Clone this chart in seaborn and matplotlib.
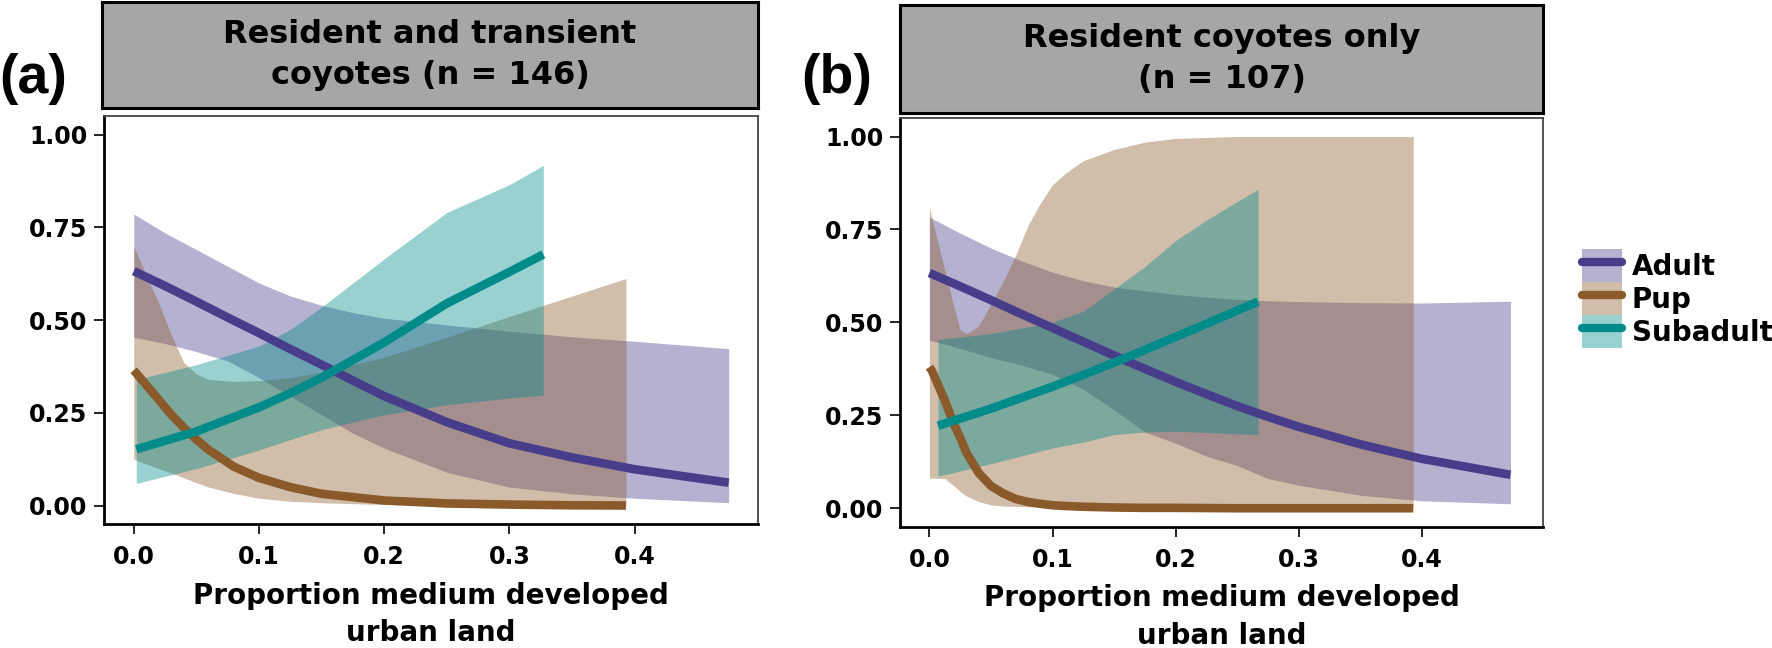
import pandas as pd
import matplotlib
matplotlib.use("Agg")
import matplotlib.pyplot as plt
from matplotlib.patches import Patch
from matplotlib.lines import Line2D
import seaborn as sns


# Data: fitted probability + 95% band per age class

# (a) resident and transient coyotes
A_ADULT_X = [0.0, 0.025, 0.05, 0.075, 0.1, 0.125, 0.15, 0.175, 0.2, 0.25, 0.3, 0.35, 0.4, 0.475]
A_ADULT_FIT = [0.632, 0.592, 0.55, 0.507, 0.465, 0.422, 0.38, 0.337, 0.295, 0.225, 0.168, 0.13, 0.098, 0.062]
A_ADULT_LO = [0.454, 0.437, 0.415, 0.39, 0.345, 0.295, 0.245, 0.195, 0.155, 0.09, 0.05, 0.032, 0.02, 0.008]
A_ADULT_HI = [0.786, 0.735, 0.69, 0.645, 0.6, 0.565, 0.54, 0.52, 0.505, 0.487, 0.47, 0.455, 0.443, 0.423]

A_PUP_X = [0.0, 0.01, 0.02, 0.03, 0.04, 0.05, 0.06, 0.08, 0.1, 0.125, 0.15, 0.2, 0.25, 0.3, 0.35, 0.393]
A_PUP_FIT = [0.365, 0.325, 0.285, 0.245, 0.21, 0.178, 0.15, 0.105, 0.075, 0.05, 0.032, 0.014, 0.006, 0.003, 0.001, 0.0005]
A_PUP_LO = [0.125, 0.112, 0.1, 0.088, 0.075, 0.062, 0.05, 0.033, 0.02, 0.012, 0.008, 0.003, 0.001, 0.001, 0.0, 0.0]
A_PUP_HI = [0.698, 0.62, 0.545, 0.46, 0.385, 0.355, 0.34, 0.335, 0.337, 0.345, 0.36, 0.4, 0.454, 0.51, 0.565, 0.612]

A_SUB_X = [0.002, 0.05, 0.1, 0.125, 0.15, 0.2, 0.25, 0.3, 0.327]
A_SUB_FIT = [0.152, 0.2, 0.265, 0.303, 0.345, 0.44, 0.545, 0.63, 0.677]
A_SUB_LO = [0.06, 0.1, 0.15, 0.178, 0.205, 0.245, 0.272, 0.29, 0.298]
A_SUB_HI = [0.34, 0.38, 0.43, 0.475, 0.535, 0.665, 0.79, 0.865, 0.917]

# (b) resident coyotes only
B_ADULT_X = [0.0, 0.025, 0.05, 0.075, 0.1, 0.125, 0.15, 0.175, 0.2, 0.225, 0.25, 0.275, 0.3, 0.35, 0.4, 0.472]
B_ADULT_FIT = [0.633, 0.597, 0.56, 0.522, 0.485, 0.448, 0.411, 0.375, 0.34, 0.307, 0.275, 0.246, 0.219, 0.172, 0.133, 0.09]
B_ADULT_LO = [0.452, 0.43, 0.405, 0.385, 0.36, 0.32, 0.265, 0.205, 0.175, 0.14, 0.115, 0.08, 0.062, 0.035, 0.02, 0.012]
B_ADULT_HI = [0.783, 0.74, 0.7, 0.665, 0.635, 0.612, 0.595, 0.585, 0.575, 0.568, 0.562, 0.558, 0.556, 0.553, 0.552, 0.557]

B_PUP_X = [0.0, 0.002, 0.0125, 0.02, 0.025, 0.03, 0.04, 0.05, 0.06, 0.07, 0.08, 0.09, 0.1, 0.11,
           0.125, 0.15, 0.175, 0.2, 0.25, 0.3, 0.393]
B_PUP_FIT = [0.38, 0.37, 0.29, 0.225, 0.19, 0.15, 0.095, 0.06, 0.04, 0.025, 0.017, 0.012, 0.008, 0.006,
             0.004, 0.002, 0.001, 0.001, 0.0, 0.0, 0.0]
B_PUP_LO = [0.081, 0.081, 0.08, 0.06, 0.045, 0.033, 0.018, 0.009, 0.006, 0.005, 0.004, 0.003, 0.002, 0.002,
            0.001, 0.001, 0.0, 0.0, 0.0, 0.0, 0.0]
B_PUP_HI = [0.81, 0.78, 0.64, 0.54, 0.48, 0.47, 0.49, 0.55, 0.61, 0.68, 0.76, 0.82, 0.87, 0.9,
            0.935, 0.965, 0.985, 0.995, 1.0, 1.0, 1.0]

B_SUB_X = [0.007, 0.05, 0.1, 0.125, 0.15, 0.175, 0.2, 0.225, 0.25, 0.267]
B_SUB_FIT = [0.222, 0.268, 0.327, 0.359, 0.392, 0.426, 0.461, 0.496, 0.532, 0.556]
B_SUB_LO = [0.086, 0.12, 0.162, 0.178, 0.198, 0.205, 0.207, 0.204, 0.2, 0.198]
B_SUB_HI = [0.454, 0.47, 0.5, 0.53, 0.59, 0.65, 0.72, 0.775, 0.825, 0.858]

GROUPS = ["Adult", "Pup", "Subadult"]
COLORS = {"Adult": "#483D8B", "Pup": "#8B5A2B", "Subadult": "#008B8B"}
PANEL_TITLES = ["Resident and transient\ncoyotes (n = 146)", "Resident coyotes only\n(n = 107)"]
PANEL_TAGS = ["(a)", "(b)"]
X_TICKS = [0.0, 0.1, 0.2, 0.3, 0.4]
Y_TICKS = [0.0, 0.25, 0.5, 0.75, 1.0]


def to_frame(panel, group, x, fit, lo, hi):
    return pd.DataFrame({"panel": panel, "group": group, "x": x, "fit": fit, "lo": lo, "hi": hi})


df = pd.concat([
    to_frame("a", "Adult", A_ADULT_X, A_ADULT_FIT, A_ADULT_LO, A_ADULT_HI),
    to_frame("a", "Pup", A_PUP_X, A_PUP_FIT, A_PUP_LO, A_PUP_HI),
    to_frame("a", "Subadult", A_SUB_X, A_SUB_FIT, A_SUB_LO, A_SUB_HI),
    to_frame("b", "Adult", B_ADULT_X, B_ADULT_FIT, B_ADULT_LO, B_ADULT_HI),
    to_frame("b", "Pup", B_PUP_X, B_PUP_FIT, B_PUP_LO, B_PUP_HI),
    to_frame("b", "Subadult", B_SUB_X, B_SUB_FIT, B_SUB_LO, B_SUB_HI),
], ignore_index=True)


# Style
sns.set_theme(style="white")
plt.rcParams["font.family"] = ["DejaVu Sans"]
plt.rcParams["font.weight"] = "bold"
plt.rcParams["axes.labelweight"] = "bold"
plt.rcParams["text.color"] = "black"
plt.rcParams["axes.labelcolor"] = "black"
plt.rcParams["xtick.color"] = "black"
plt.rcParams["ytick.color"] = "black"

fig = plt.figure(figsize=(17.72, 6.48), dpi=100)

axes_pos = [[0.0587, 0.191, 0.3693, 0.630], [0.508, 0.187, 0.363, 0.631]]
strip_pos = [[0.0573, 0.833, 0.3707, 0.164], [0.508, 0.826, 0.363, 0.166]]
tag_x = [33 / 1772, 837 / 1772]

for i, panel in enumerate(["a", "b"]):
    ax = fig.add_axes(axes_pos[i])
    sub = df[df["panel"] == panel]
    for g in GROUPS:
        d = sub[sub["group"] == g]
        ax.fill_between(d["x"], d["lo"], d["hi"], color=COLORS[g], alpha=0.4, linewidth=0)
        sns.lineplot(data=d, x="x", y="fit", ax=ax, color=COLORS[g], linewidth=6.2,
                     legend=False, solid_capstyle="butt")

    ax.set_xlim(-0.02375, 0.49875)
    ax.set_ylim(-0.05, 1.05)
    ax.set_xticks(X_TICKS)
    ax.set_xticklabels([f"{v:.1f}" for v in X_TICKS])
    ax.set_yticks(Y_TICKS)
    ax.set_yticklabels([f"{v:.2f}" for v in Y_TICKS])
    ax.tick_params(axis="both", labelsize=17, length=7, width=1.2, color="black",
                   labelcolor="black", bottom=True, left=True)
    ax.tick_params(axis="y", pad=5)
    ax.tick_params(axis="x", pad=8)
    ax.set_ylabel("")
    ax.set_xlabel("Proportion medium developed\nurban land", fontsize=20, color="black",
                  linespacing=1.45, labelpad=9)
    for side in ["left", "bottom"]:
        ax.spines[side].set_color("black")
        ax.spines[side].set_linewidth(2)
    for side in ["top", "right"]:
        ax.spines[side].set_color("#444444")
        ax.spines[side].set_linewidth(1.3)

    # facet strip
    sx = fig.add_axes(strip_pos[i])
    sx.set_facecolor("#A6A6A6")
    sx.set_xticks([])
    sx.set_yticks([])
    for s in sx.spines.values():
        s.set_color("black")
        s.set_linewidth(2.2)
    sx.text(0.5, 0.5, PANEL_TITLES[i], ha="center", va="center", fontsize=23,
            color="black", linespacing=1.45, transform=sx.transAxes)

    fig.text(tag_x[i], 1 - 79 / 648, PANEL_TAGS[i], ha="center", va="center", color="black",
             fontsize=40, fontweight="bold", family=["Liberation Sans", "DejaVu Sans"])


# Legend: light ribbon key with the fitted line through it
handles = [(Patch(facecolor=COLORS[g], alpha=0.4, linewidth=0),
            Line2D([], [], color=COLORS[g], linewidth=6)) for g in GROUPS]
fig.legend(handles=handles, labels=GROUPS, loc="center left", bbox_to_anchor=(0.8927, 0.539),
           frameon=False, fontsize=20, handlelength=1.44, handleheight=1.45,
           labelspacing=0.0, handletextpad=0.35, borderpad=0, borderaxespad=0)

fig.savefig("out.png", dpi=100)
plt.close(fig)
